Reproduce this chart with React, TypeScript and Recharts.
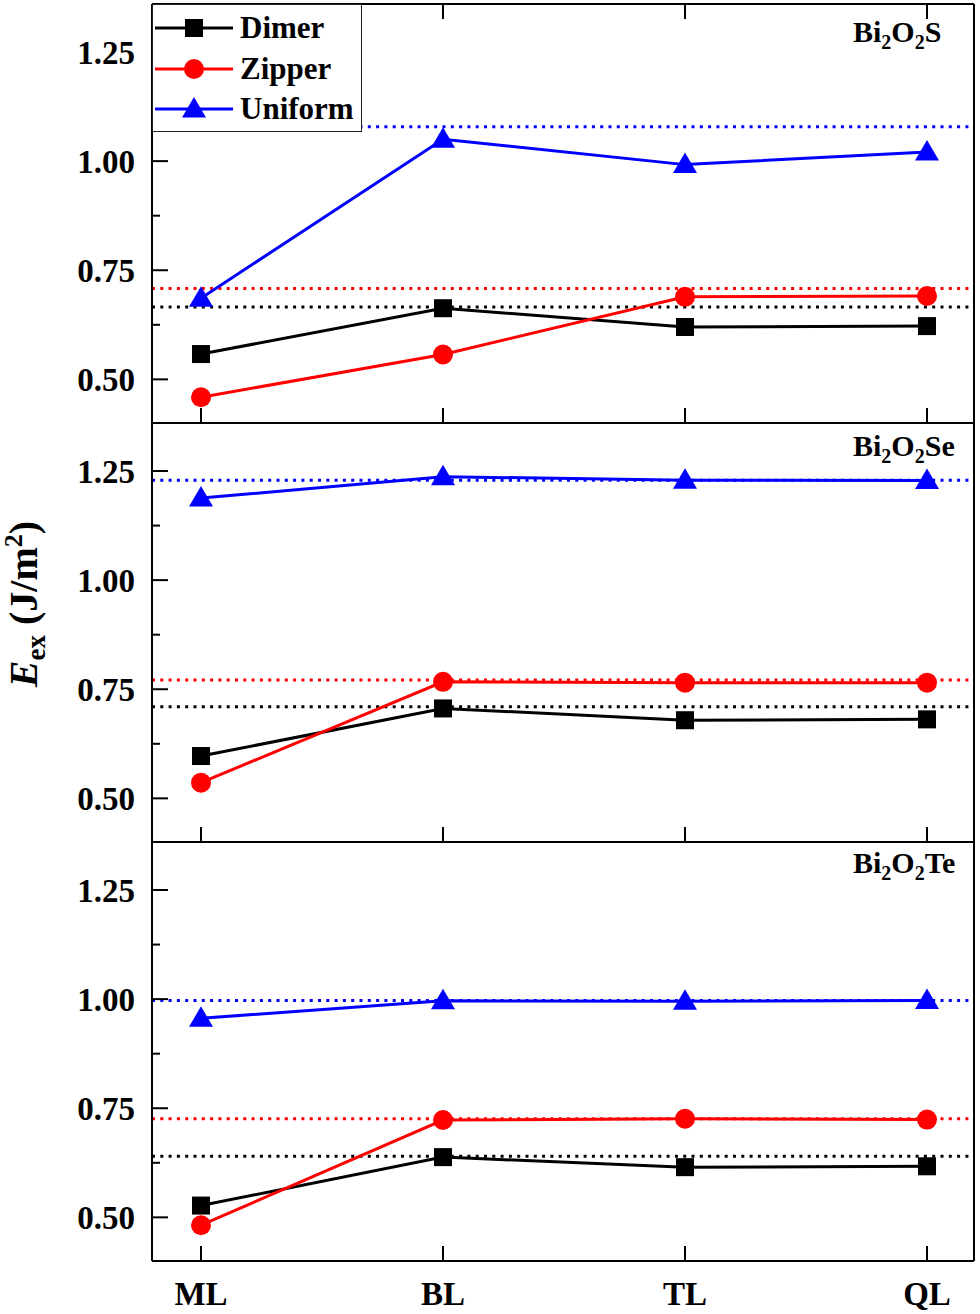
import React from "react";
import { LineChart, Line, XAxis, YAxis, ReferenceLine, Legend } from "recharts";

const LAYERS = ["ML", "BL", "TL", "QL"];

// Bi2O2S
const S_DIMER = [0.558, 0.663, 0.62, 0.622];
const S_ZIPPER = [0.459, 0.557, 0.689, 0.691];
const S_UNIFORM = [0.686, 1.05, 0.992, 1.021];
const S_BULK = [0.666, 0.708, 1.079];

// Bi2O2Se
const SE_DIMER = [0.597, 0.706, 0.679, 0.681];
const SE_ZIPPER = [0.536, 0.767, 0.765, 0.765];
const SE_UNIFORM = [1.188, 1.237, 1.229, 1.228];
const SE_BULK = [0.71, 0.771, 1.229];

// Bi2O2Te
const TE_DIMER = [0.527, 0.638, 0.615, 0.617];
const TE_ZIPPER = [0.482, 0.723, 0.726, 0.724];
const TE_UNIFORM = [0.956, 0.996, 0.995, 0.997];
const TE_BULK = [0.64, 0.726, 0.997];

const Y_TICKS = [0.5, 0.625, 0.75, 0.875, 1.0, 1.125, 1.25];
const MAJOR_TICKS = [0.5, 0.75, 1.0, 1.25];
const Y_DOMAIN = [0.4, 1.36];

const FONT = '"Liberation Serif", "Times New Roman", serif';

const SERIES = [
  { key: "dimer", name: "Dimer", color: "#000000", shape: "square" },
  { key: "zipper", name: "Zipper", color: "#ff0000", shape: "circle" },
  { key: "uniform", name: "Uniform", color: "#0000ff", shape: "triangle" },
];

function buildRows(dimer: number[], zipper: number[], uniform: number[]) {
  return LAYERS.map((layer, i) => ({ layer, dimer: dimer[i], zipper: zipper[i], uniform: uniform[i] }));
}

const PANELS = [
  { sub: "S", rows: buildRows(S_DIMER, S_ZIPPER, S_UNIFORM), bulk: S_BULK },
  { sub: "Se", rows: buildRows(SE_DIMER, SE_ZIPPER, SE_UNIFORM), bulk: SE_BULK },
  { sub: "Te", rows: buildRows(TE_DIMER, TE_ZIPPER, TE_UNIFORM), bulk: TE_BULK },
];

function Marker({ shape, cx, cy, color }: any) {
  if (cx == null || cy == null) return null;
  if (shape === "square") {
    return <rect x={cx - 9} y={cy - 9} width={18} height={18} fill={color} />;
  }
  if (shape === "circle") {
    return <circle cx={cx} cy={cy} r={10} fill={color} />;
  }
  return <polygon points={`${cx},${cy - 12} ${cx - 12},${cy + 8.5} ${cx + 12},${cy + 8.5}`} fill={color} />;
}

function LeftTick({ x, y, payload }: any) {
  const major = MAJOR_TICKS.includes(payload.value);
  return (
    <g>
      <line x1={x} x2={x + (major ? 16 : 8)} y1={y} y2={y} stroke="#000" strokeWidth={2} />
      {major && (
        <text x={x - 17} y={y} dy="0.35em" textAnchor="end" fontFamily={FONT} fontWeight="bold" fontSize={33} fill="#000">
          {payload.value.toFixed(2)}
        </text>
      )}
    </g>
  );
}

function RightTick({ x, y, payload }: any) {
  const major = MAJOR_TICKS.includes(payload.value);
  return <line x1={x} x2={x - (major ? 16 : 8)} y1={y} y2={y} stroke="#000" strokeWidth={2} />;
}

function makeBottomTick(showLabel: boolean) {
  return ({ x, y, payload }: any) => (
    <g>
      <line x1={x} x2={x} y1={y} y2={y - 15} stroke="#000" strokeWidth={2} />
      {showLabel && (
        <text x={x} y={y + 44} textAnchor="middle" fontFamily={FONT} fontWeight="bold" fontSize={33} fill="#000">
          {payload.value}
        </text>
      )}
    </g>
  );
}

function TopTick({ x, y }: any) {
  return <line x1={x} x2={x} y1={y} y2={y + 15} stroke="#000" strokeWidth={2} />;
}

function LegendBox({ payload }: any) {
  const items = SERIES.map((s) => ({ ...s, entry: (payload || []).find((p: any) => p.dataKey === s.key) }));
  return (
    <div
      style={{
        width: 210,
        height: 128,
        boxSizing: "border-box",
        background: "#fff",
        border: "1.5px solid #222",
        paddingTop: 3,
        fontFamily: FONT,
        fontWeight: "bold",
        fontSize: 31,
        color: "#000",
      }}
    >
      {items.map((s) => (
        <div key={s.key} style={{ display: "flex", alignItems: "center", height: 40.5 }}>
          <svg width={82} height={30} style={{ flex: "none" }}>
            <line x1={2} x2={80} y1={15} y2={15} stroke={s.color} strokeWidth={3} />
            <Marker shape={s.shape} cx={41} cy={15} color={s.color} />
          </svg>
          <span style={{ marginLeft: 5 }}>{s.entry ? s.entry.value : s.name}</span>
        </div>
      ))}
    </div>
  );
}

const PANEL_LAYOUT = [
  { top: 0, height: 424, bottomAxis: 1 },
  { top: 419, height: 424, bottomAxis: 1 },
  { top: 838, height: 476, bottomAxis: 53 },
];

const LABEL_BASELINES = [42, 456, 873];

export default function App() {
  return (
    <div style={{ position: "absolute", left: 0, top: 0, width: 980, height: 1314, background: "#fff" }}>
      {PANELS.map((panel, pi) => {
        const lay = PANEL_LAYOUT[pi];
        const isLast = pi === PANELS.length - 1;
        return (
          <div key={panel.sub} style={{ position: "absolute", left: 0, top: lay.top }}>
            <LineChart
              width={980}
              height={lay.height}
              data={panel.rows}
              margin={{ top: 3, right: 0, bottom: 0, left: 0 }}
            >
              <XAxis
                dataKey="layer"
                type="category"
                padding={{ left: 49, right: 47 }}
                interval={0}
                height={lay.bottomAxis}
                tickSize={0}
                tickMargin={0}
                tickLine={false}
                axisLine={{ stroke: "#000", strokeWidth: 2 }}
                tick={makeBottomTick(isLast)}
              />
              <XAxis
                xAxisId="top"
                orientation="top"
                dataKey="layer"
                type="category"
                padding={{ left: 49, right: 47 }}
                interval={0}
                height={1}
                tickSize={0}
                tickMargin={0}
                tickLine={false}
                axisLine={{ stroke: "#000", strokeWidth: 2 }}
                tick={pi === 0 ? <TopTick /> : false}
              />
              <YAxis
                type="number"
                domain={Y_DOMAIN}
                ticks={Y_TICKS}
                interval={0}
                width={152}
                tickSize={0}
                tickMargin={0}
                tickLine={false}
                axisLine={{ stroke: "#000", strokeWidth: 2 }}
                tick={<LeftTick />}
              />
              <YAxis
                yAxisId="right"
                orientation="right"
                type="number"
                domain={Y_DOMAIN}
                ticks={Y_TICKS}
                interval={0}
                width={6}
                tickSize={0}
                tickMargin={0}
                tickLine={false}
                axisLine={{ stroke: "#000", strokeWidth: 2 }}
                tick={<RightTick />}
              />
              {SERIES.map((s, si) => (
                <ReferenceLine
                  key={`ref-${s.key}`}
                  y={panel.bulk[si]}
                  stroke={s.color}
                  strokeWidth={3}
                  strokeDasharray="3 5.3"
                />
              ))}
              {SERIES.map((s) => (
                <Line
                  key={s.key}
                  dataKey={s.key}
                  name={s.name}
                  stroke={s.color}
                  strokeWidth={3}
                  isAnimationActive={false}
                  activeDot={false}
                  dot={(p: any) => <Marker key={`${s.key}-${p.index}`} shape={s.shape} cx={p.cx} cy={p.cy} color={s.color} />}
                />
              ))}
              {pi === 0 && (
                <Legend
                  layout="horizontal"
                  verticalAlign="middle"
                  align="center"
                  content={<LegendBox />}
                  wrapperStyle={{ top: 4, left: 152, width: 210, height: 128 }}
                />
              )}
            </LineChart>
          </div>
        );
      })}
      <svg
        width={980}
        height={1314}
        style={{ position: "absolute", left: 0, top: 0, pointerEvents: "none" }}
        fontFamily={FONT}
        fontWeight="bold"
      >
        {PANELS.map((panel, pi) => (
          <text key={panel.sub} x={853} y={LABEL_BASELINES[pi]} fontSize={30} fill="#000">
            Bi
            <tspan dy={7} fontSize={20}>2</tspan>
            <tspan dy={-7}>O</tspan>
            <tspan dy={7} fontSize={20}>2</tspan>
            <tspan dy={-7}>{panel.sub}</tspan>
          </text>
        ))}
        <text
          transform="rotate(-90)"
          x={-604}
          y={37}
          textAnchor="middle"
          fontSize={40}
          fill="#000"
          style={{ whiteSpace: "pre" }}
        >
          <tspan fontStyle="italic">E</tspan>
          <tspan dy={8} fontSize={27}>ex</tspan>
          <tspan dy={-8}> (J/m</tspan>
          <tspan dy={-15} fontSize={26}>2</tspan>
          <tspan dy={15}>)</tspan>
        </text>
      </svg>
    </div>
  );
}
